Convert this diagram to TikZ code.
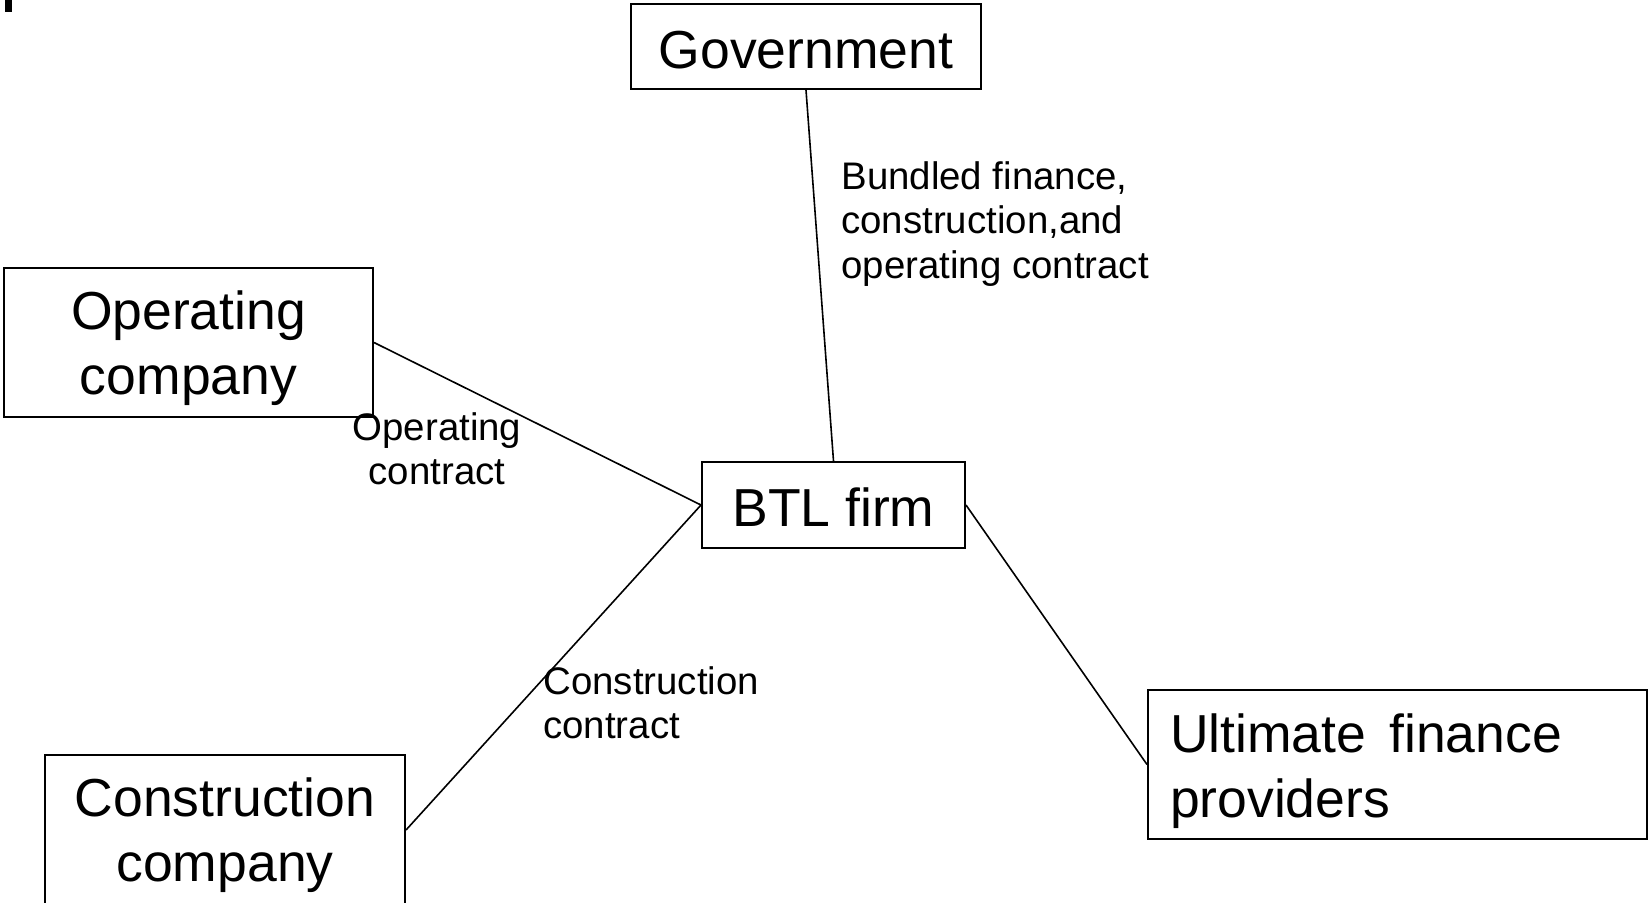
\documentclass[tikz,border=0pt]{standalone}
\usepackage{fontspec}
\setmainfont{Liberation Sans}
\usetikzlibrary{calc}
\newcommand{\boxfont}{\fontsize{26.75}{32.5}\selectfont}
\newcommand{\lblfont}{\fontsize{19.2}{22.25}\selectfont}

\begin{document}
\begin{tikzpicture}[x=0.5pt,y=-0.5pt,
    party/.style={draw,line width=1pt,align=center,font=\boxfont,inner sep=0pt},
    deal/.style={font=\lblfont,inner sep=0pt}]
  \useasboundingbox (0,0) rectangle (1648,902);
  \fill (5,0) rectangle (12,12);

  \node[party,minimum width=175pt,minimum height=42.5pt,text height=22pt] (gov) at (806,46.5) {Government};
  \node[party,minimum width=184.5pt,minimum height=74.5pt,text depth=0pt] (oper) at (188.5,342.5) {Operating\\company};
  \node[party,minimum width=131.5pt,minimum height=43pt,text height=21.5pt] (btl) at (833.5,505) {BTL firm};
  \node[party,minimum width=180pt,minimum height=75pt,text depth=0pt] (cons) at (225,830) {Construction\\company};
  \node[party,align=left,text width=227.5pt,inner xsep=11pt,minimum height=74.5pt,
        text height=19.5pt,text depth=32pt] (fin) at (1397.5,764.5) {Ultimate\hspace{0.1em} finance\\providers};

  \draw[line width=0.8pt] (gov.south) -- (btl.north);
  \draw[line width=0.8pt] (oper.east) -- (btl.west);
  \draw[line width=0.8pt] (cons.east) -- (btl.west);
  \draw[line width=0.8pt] (btl.east) -- (fin.west);

  \node[deal,anchor=west,align=left] (bundle) at (841,224) {Bundled finance,\\construction,and\\operating contract};
  \node[deal,align=center] (operdeal) at (437,449) {Operating\\contract};
  \node[deal,anchor=west,align=left] (consdeal) at (543,703) {Construction\\contract};
\end{tikzpicture}
\end{document}
